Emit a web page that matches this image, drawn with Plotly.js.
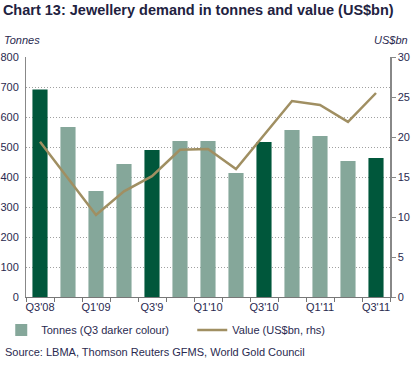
<!DOCTYPE html>
<html>
<head>
<meta charset="utf-8">
<script src="https://cdn.plot.ly/plotly-3.0.1.min.js"></script>
<style>html,body{margin:0;padding:0;background:#fff;}#chart{width:412px;height:380px;}</style>
</head>
<body>
<div id="chart"></div>
<script>
const categories = ["Q3'08","Q4'08","Q1'09","Q2'09","Q3'09","Q4'09","Q1'10","Q2'10","Q3'10","Q4'10","Q1'11","Q2'11","Q3'11"];
const tickLabels = ["Q3'08","","Q1'09","","Q3'9","","Q1'10","","Q3'10","","Q1'11","","Q3'11"];
const tonnes = [692, 567, 353, 443, 490, 520, 520, 413, 517, 557, 537, 453, 463];
const valueUSbn = [19.4, 14.9, 10.25, 13.2, 15.1, 18.4, 18.5, 16.0, 20.3, 24.5, 24.0, 21.9, 25.5];

const isQ3 = categories.map(c => c.startsWith("Q3"));
const lightY = tonnes.map((v, i) => isQ3[i] ? null : v);
const darkY = tonnes.map((v, i) => isQ3[i] ? v : null);

const textColor = '#2a2a50';
const font = {family: 'Liberation Sans, Arial, sans-serif', size: 11, color: textColor};

const data = [
  {type: 'bar', x: categories, y: lightY, name: 'Tonnes (Q3 darker colour)', marker: {color: '#85a79a'}},
  {type: 'bar', x: categories, y: darkY, name: 'Tonnes Q3', showlegend: false, marker: {color: '#00573b'}},
  {type: 'scatter', mode: 'lines', x: categories, y: valueUSbn, yaxis: 'y2', name: 'Value (US$bn, rhs)', line: {color: '#a08f62', width: 2.5}}
];

const layout = {
  width: 412, height: 380,
  margin: {l: 26, r: 22, t: 57, b: 83, autoexpand: false},
  paper_bgcolor: '#fff', plot_bgcolor: '#fff',
  font: font,
  barmode: 'overlay',
  bargap: 0.46,
  title: {text: '<b>Chart 13: Jewellery demand in tonnes and value (US$bn)</b>', x: 0.007, xanchor: 'left', xref: 'container', y: 0.974, yanchor: 'middle', yref: 'container', font: {family: 'Liberation Sans, Arial, sans-serif', size: 14.5, color: '#22223f'}},
  xaxis: {
    type: 'category', tickvals: categories, ticktext: tickLabels, tickson: 'boundaries', tickangle: 0,
    ticks: 'outside', ticklen: 4, tickcolor: '#777', showline: true, linecolor: '#777', linewidth: 1,
    showgrid: false, tickfont: font, range: [-0.5, 12.5], automargin: false
  },
  yaxis: {
    range: [0, 800], dtick: 100, showline: true, linecolor: '#888', linewidth: 1,
    ticks: '', showgrid: true, gridcolor: '#a0a0a0', griddash: '1px,2px', gridwidth: 1,
    zeroline: false, tickfont: font, ticklabelstandoff: 4, automargin: false
  },
  yaxis2: {
    overlaying: 'y', side: 'right', range: [0, 30], dtick: 5, showline: true, linecolor: '#888', linewidth: 1.5,
    ticks: 'outside', ticklen: 4, tickcolor: '#888', showgrid: false, zeroline: false, tickfont: font, automargin: false
  },
  legend: {orientation: 'h', x: -0.068, xanchor: 'left', y: -0.1375, yanchor: 'middle', font: font, bgcolor: 'rgba(0,0,0,0)', entrywidth: 146, entrywidthmode: 'pixels'},
  showlegend: true,
  annotations: [
    {text: '<i>Tonnes</i>', xref: 'paper', yref: 'paper', x: -26/364 + 0.006, y: (297-40)/240, xanchor: 'left', yanchor: 'middle', showarrow: false, font: font},
    {text: '<i>US$bn</i>', xref: 'paper', yref: 'paper', x: (410-26)/364, y: (297-40)/240, xanchor: 'right', yanchor: 'middle', showarrow: false, font: font},
    {text: 'Source: LBMA, Thomson Reuters GFMS, World Gold Council', xref: 'paper', yref: 'paper', x: -23/364, y: (297-352)/240, xanchor: 'left', yanchor: 'middle', showarrow: false, font: font}
  ]
};

Plotly.newPlot('chart', data, layout, {displayModeBar: false, staticPlot: true});
</script>
</body>
</html>
